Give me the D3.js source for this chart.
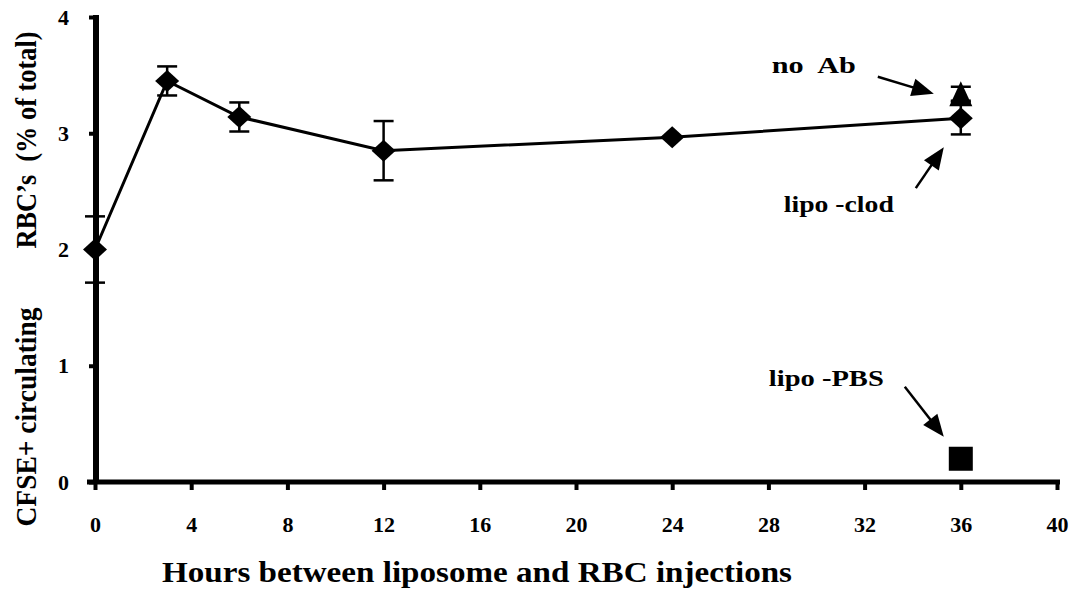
<!DOCTYPE html>
<html>
<head>
<meta charset="utf-8">
<script src="https://cdn.jsdelivr.net/npm/d3@7"></script>
<style>
  html, body { margin: 0; padding: 0; background: #fff; }
  svg { display: block; }
  text { font-family: "Liberation Serif", "Times New Roman", Times, serif; font-weight: bold; fill: #000; }
</style>
</head>
<body>
<svg id="chart" width="1070" height="599"></svg>
<script>
//Data
var hours = [0, 3, 6, 12, 24, 36];
var rbcPct = [2.0, 3.45, 3.14, 2.85, 2.965, 3.13];
var rbcErr = [0.285, 0.125, 0.125, 0.255, 0, 0.14];

var noAbHours = [36];
var noAbPct = [3.34];
var noAbErr = [0.06];

var lipoPbsHours = [36];
var lipoPbsPct = [0.2];

var xTicks = [0, 4, 8, 12, 16, 20, 24, 28, 32, 36, 40];
var yTicks = [0, 1, 2, 3, 4];

var xTitle = "Hours between liposome and RBC injections";
var yTitleLower = "CFSE+ circulating";
var yTitleUpper = "RBC\u2019s  (% of total)";

var annotationLabels = ["no  Ab", "lipo -clod", "lipo -PBS"];

//Layout
var svg = d3.select("#chart");
var x = d3.scaleLinear().domain([0, 40]).range([95, 1057]);
var y = d3.scaleLinear().domain([0, 4]).range([482, 17]);

//x axis (ticks + labels), own thick base line
var xAxis = svg.append("g")
   .attr("transform", "translate(0," + y(0) + ")")
   .call(d3.axisBottom(x).tickValues(xTicks).tickFormat(d3.format("d")).tickSize(8).tickSizeOuter(0).tickPadding(26));
xAxis.select(".domain").remove();
xAxis.selectAll("line").attr("stroke", "#000").attr("stroke-width", 4);
xAxis.selectAll("text").style("font-size", "22px");
svg.append("line")
   .attr("x1", x(0) - 8).attr("x2", x(40) + 3)
   .attr("y1", y(0)).attr("y2", y(0))
   .attr("stroke", "#000").attr("stroke-width", 5);

//y axis
var yAxis = svg.append("g")
   .attr("transform", "translate(" + (x(0) + 1) + ",0)")
   .call(d3.axisLeft(y).tickValues(yTicks).tickFormat(d3.format("d")).tickSize(7).tickSizeOuter(0).tickPadding(20));
yAxis.select(".domain").remove();
yAxis.selectAll("line").attr("stroke", "#000").attr("stroke-width", 4);
yAxis.selectAll("text").style("font-size", "22px");
svg.append("line")
   .attr("x1", x(0) + 1).attr("x2", x(0) + 1)
   .attr("y1", y(4) - 2).attr("y2", y(0) + 2)
   .attr("stroke", "#000").attr("stroke-width", 6);

//Axis titles
svg.append("text")
   .attr("x", 477).attr("y", 582)
   .attr("text-anchor", "middle")
   .style("font-size", "29px")
   .attr("textLength", 630).attr("lengthAdjust", "spacingAndGlyphs")
   .text(xTitle);
svg.append("text")
   .attr("transform", "translate(36,417) rotate(-90)")
   .attr("text-anchor", "middle")
   .style("font-size", "29px")
   .attr("textLength", 219).attr("lengthAdjust", "spacingAndGlyphs")
   .text(yTitleLower);
svg.append("text")
   .attr("transform", "translate(36,140) rotate(-90)")
   .attr("text-anchor", "middle")
   .style("font-size", "29px")
   .style("white-space", "pre")
   .attr("textLength", 217).attr("lengthAdjust", "spacingAndGlyphs")
   .text(yTitleUpper);

//Error bars
function errorBars(xs, vs, es){
   var g = svg.append("g").attr("stroke", "#000").attr("stroke-width", 2.5);
   xs.forEach(function(h, i){
      if(!es[i]) return;
      var cx = x(h);
      g.append("line").attr("x1", cx).attr("x2", cx)
         .attr("y1", y(vs[i] - es[i])).attr("y2", y(vs[i] + es[i]));
      [vs[i] - es[i], vs[i] + es[i]].forEach(function(v){
         g.append("line").attr("x1", cx - 10).attr("x2", cx + 10)
            .attr("y1", y(v)).attr("y2", y(v));
      });
   });
}
errorBars(hours, rbcPct, rbcErr);
errorBars(noAbHours, noAbPct, noAbErr);

//Main series line
var lineGen = d3.line()
   .x(function(d){ return x(d[0]); })
   .y(function(d){ return y(d[1]); });
svg.append("path")
   .datum(d3.zip(hours, rbcPct))
   .attr("d", lineGen)
   .attr("fill", "none").attr("stroke", "#000").attr("stroke-width", 3);

//Diamond markers
svg.selectAll("path.diamond")
   .data(d3.zip(hours, rbcPct))
   .enter()
   .append("path")
   .attr("class", "diamond")
   .attr("transform", function(d){ return "translate(" + x(d[0]) + "," + y(d[1]) + ")"; })
   .attr("d", "M0,-11L12,0L0,11L-12,0Z")
   .attr("fill", "#000");

//Triangle (no Ab)
svg.selectAll("path.tri")
   .data(d3.zip(noAbHours, noAbPct))
   .enter()
   .append("path")
   .attr("class", "tri")
   .attr("transform", function(d){ return "translate(" + x(d[0]) + "," + y(d[1]) + ")"; })
   .attr("d", "M0,-12.5L11.5,12.5L-11.5,12.5Z")
   .attr("fill", "#000");

//Square (lipo-PBS)
svg.selectAll("rect.sq")
   .data(d3.zip(lipoPbsHours, lipoPbsPct))
   .enter()
   .append("rect")
   .attr("class", "sq")
   .attr("x", function(d){ return x(d[0]) - 12; })
   .attr("y", function(d){ return y(d[1]) - 12; })
   .attr("width", 24).attr("height", 24)
   .attr("fill", "#000");

//Annotations: offsets from the pointed-at marker
var annotations = [
   {label: annotationLabels[0], hx: noAbHours[0], v: noAbPct[0], text: [-189, -21], width: 84, from: [-83, -17], to: [-27, 0]},
   {label: annotationLabels[1], hx: hours[5], v: rbcPct[5], text: [-177, 94], width: 110, from: [-45, 70], to: [-17, 29]},
   {label: annotationLabels[2], hx: lipoPbsHours[0], v: lipoPbsPct[0], text: [-192, -73], width: 115, from: [-56, -72], to: [-17, -22]}
];

function arrow(x1, y1, x2, y2){
   var dx = x2 - x1, dy = y2 - y1;
   var len = Math.sqrt(dx * dx + dy * dy);
   var ux = dx / len, uy = dy / len;
   var headLen = 22, headHalf = 9;
   var bx = x2 - ux * headLen, by = y2 - uy * headLen;
   svg.append("line")
      .attr("x1", x1).attr("y1", y1).attr("x2", bx + ux * 2).attr("y2", by + uy * 2)
      .attr("stroke", "#000").attr("stroke-width", 2.5);
   svg.append("path")
      .attr("d", "M" + x2 + "," + y2 +
         "L" + (bx - uy * headHalf) + "," + (by + ux * headHalf) +
         "L" + (bx + uy * headHalf) + "," + (by - ux * headHalf) + "Z")
      .attr("fill", "#000");
}

annotations.forEach(function(a){
   var px = x(a.hx), py = y(a.v);
   svg.append("text")
      .attr("x", px + a.text[0]).attr("y", py + a.text[1])
      .style("font-size", "24px")
      .style("white-space", "pre")
      .attr("textLength", a.width).attr("lengthAdjust", "spacingAndGlyphs")
      .text(a.label);
   arrow(px + a.from[0], py + a.from[1], px + a.to[0], py + a.to[1]);
});
</script>
</body>
</html>
